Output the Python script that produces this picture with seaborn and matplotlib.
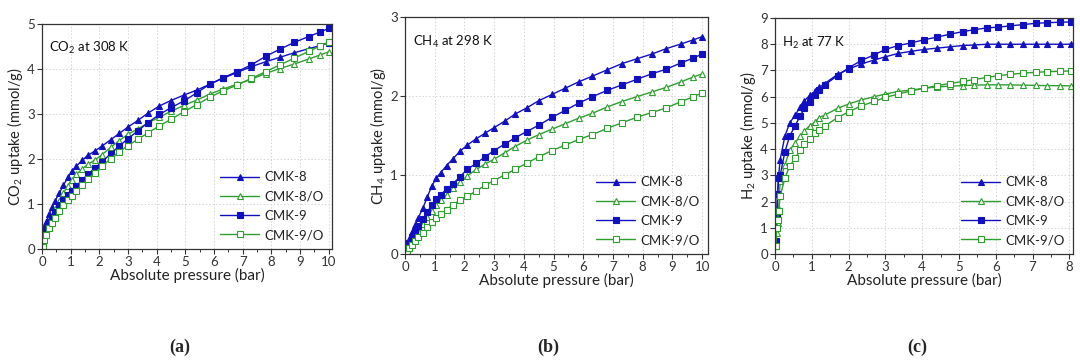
import matplotlib
matplotlib.use("Agg")
import matplotlib.pyplot as plt
from matplotlib.ticker import MultipleLocator
import seaborn as sns

# ---------------- data ----------------
series_names = ["CMK-8", "CMK-8/O", "CMK-9", "CMK-9/O"]

p_co2 = [0.02, 0.08, 0.15, 0.25, 0.35, 0.45, 0.6, 0.75, 0.9, 1.05, 1.2, 1.4, 1.6, 1.85,
         2.1, 2.4, 2.7, 3.0, 3.35, 3.7, 4.1, 4.5, 4.95, 5.4, 5.85, 6.3, 6.8, 7.3, 7.8,
         8.3, 8.8, 9.3, 9.7, 10.0]
co2_cmk8 = [0.25, 0.45, 0.6, 0.78, 0.93, 1.06, 1.24, 1.42, 1.59, 1.73, 1.84, 1.97, 2.08, 2.18,
            2.29, 2.43, 2.57, 2.71, 2.86, 3.02, 3.18, 3.30, 3.42, 3.53, 3.66, 3.79, 3.92, 4.05,
            4.16, 4.26, 4.36, 4.45, 4.52, 4.58]
co2_cmk8o = [0.1, 0.3, 0.45, 0.62, 0.76, 0.9, 1.07, 1.24, 1.41, 1.54, 1.66, 1.78, 1.88, 1.98,
             2.10, 2.26, 2.41, 2.55, 2.67, 2.80, 2.93, 3.06, 3.19, 3.31, 3.44, 3.55, 3.66, 3.77,
             3.90, 4.01, 4.11, 4.22, 4.31, 4.38]
co2_cmk9 = [0.15, 0.32, 0.45, 0.6, 0.72, 0.83, 0.97, 1.09, 1.2, 1.29, 1.40, 1.53, 1.66, 1.80,
            1.94, 2.12, 2.29, 2.45, 2.63, 2.81, 2.99, 3.14, 3.29, 3.47, 3.66, 3.80, 3.94, 4.09,
            4.28, 4.44, 4.59, 4.72, 4.82, 4.90]
co2_cmk9o = [0.05, 0.2, 0.32, 0.46, 0.58, 0.69, 0.84, 0.97, 1.09, 1.18, 1.30, 1.43, 1.56, 1.70,
             1.84, 2.01, 2.16, 2.30, 2.44, 2.58, 2.74, 2.88, 3.05, 3.21, 3.37, 3.51, 3.64, 3.79,
             3.94, 4.09, 4.24, 4.39, 4.51, 4.60]

p_ch4 = [0.02, 0.08, 0.15, 0.25, 0.35, 0.45, 0.6, 0.75, 0.9, 1.05, 1.2, 1.4, 1.6, 1.85,
         2.1, 2.4, 2.7, 3.0, 3.35, 3.7, 4.1, 4.5, 4.95, 5.4, 5.85, 6.3, 6.8, 7.3, 7.8,
         8.3, 8.8, 9.3, 9.7, 10.0]
ch4_cmk8 = [0.05, 0.12, 0.19, 0.28, 0.37, 0.46, 0.58, 0.72, 0.86, 0.96, 1.03, 1.12, 1.20, 1.30,
            1.38, 1.46, 1.53, 1.60, 1.68, 1.77, 1.85, 1.94, 2.02, 2.10, 2.18, 2.25, 2.33, 2.41,
            2.47, 2.53, 2.60, 2.66, 2.71, 2.75]
ch4_cmk8o = [0.02, 0.06, 0.11, 0.17, 0.23, 0.29, 0.38, 0.47, 0.55, 0.62, 0.68, 0.75, 0.83, 0.91,
             0.99, 1.07, 1.14, 1.20, 1.28, 1.36, 1.44, 1.51, 1.58, 1.65, 1.72, 1.78, 1.86, 1.93,
             1.99, 2.05, 2.11, 2.18, 2.24, 2.28]
ch4_cmk9 = [0.04, 0.09, 0.14, 0.21, 0.28, 0.35, 0.44, 0.53, 0.62, 0.70, 0.75, 0.82, 0.88, 0.98,
            1.07, 1.15, 1.23, 1.31, 1.39, 1.47, 1.55, 1.63, 1.73, 1.82, 1.91, 1.99, 2.07, 2.14,
            2.21, 2.28, 2.34, 2.42, 2.48, 2.53]
ch4_cmk9o = [0.01, 0.04, 0.08, 0.12, 0.17, 0.21, 0.27, 0.34, 0.40, 0.46, 0.51, 0.56, 0.62, 0.68,
             0.73, 0.80, 0.87, 0.93, 1.00, 1.07, 1.15, 1.23, 1.31, 1.38, 1.45, 1.51, 1.59, 1.66,
             1.73, 1.79, 1.85, 1.93, 1.99, 2.04]

p_h2 = [0.02, 0.05, 0.07, 0.1, 0.14, 0.27, 0.4, 0.55, 0.68, 0.8, 0.95, 1.1, 1.2, 1.35, 1.7,
        2.0, 2.35, 2.7, 3.0, 3.35, 3.7, 4.05, 4.4, 4.75, 5.1, 5.4, 5.75, 6.05, 6.4, 6.75,
        7.1, 7.4, 7.75, 8.05]
h2_cmk8 = [0.5, 1.5, 2.3, 3.0, 3.6, 4.5, 5.0, 5.3, 5.6, 5.85, 6.05, 6.2, 6.35, 6.5, 6.85,
           7.05, 7.25, 7.4, 7.52, 7.65, 7.73, 7.8, 7.85, 7.9, 7.95, 7.97, 8.0, 8.0, 8.0, 8.0,
           8.0, 8.0, 8.0, 8.0]
h2_cmk8o = [0.3, 0.8, 1.2, 1.7, 2.8, 3.4, 3.95, 4.25, 4.5, 4.7, 4.9, 5.05, 5.2, 5.3, 5.55,
            5.72, 5.88, 6.0, 6.1, 6.2, 6.25, 6.32, 6.37, 6.4, 6.42, 6.44, 6.45, 6.45, 6.45, 6.44,
            6.43, 6.42, 6.42, 6.41]
h2_cmk9 = [0.5, 1.5, 2.3, 2.9, 3.0, 3.9, 4.5, 4.9, 5.25, 5.55, 5.8, 6.05, 6.25, 6.45, 6.8,
           7.1, 7.38, 7.6, 7.8, 7.95, 8.05, 8.17, 8.27, 8.38, 8.48, 8.55, 8.62, 8.65, 8.7, 8.75,
           8.8, 8.82, 8.84, 8.85]
h2_cmk9o = [0.3, 1.0, 1.3, 1.65, 2.2, 2.9, 3.35, 3.65, 3.95, 4.2, 4.4, 4.6, 4.72, 4.88, 5.2,
            5.42, 5.65, 5.82, 5.97, 6.1, 6.22, 6.32, 6.42, 6.5, 6.58, 6.65, 6.73, 6.8, 6.85, 6.9,
            6.93, 6.95, 6.97, 6.98]

panel_titles = ["CO$_2$ at 308 K", "CH$_4$ at 298 K", "H$_2$ at 77 K"]
panel_ylabels = ["CO$_2$ uptake (mmol/g)", "CH$_4$ uptake (mmol/g)", "H$_2$ uptake (mmol/g)"]
panel_letters = ["a", "b", "c"]
xlabel = "Absolute pressure (bar)"

# ---------------- style ----------------
sns.set_theme(style="ticks")
plt.rcParams["font.family"] = ["Lato", "DejaVu Sans"]
plt.rcParams["mathtext.fontset"] = "custom"
plt.rcParams["mathtext.rm"] = "Lato"
plt.rcParams["mathtext.it"] = "Lato:italic"
plt.rcParams["mathtext.bf"] = "Lato:bold"

BLUE = "#1010c0"
GREEN = "#2e9e2e"
styles = [
    dict(color=BLUE, marker="^", mfc=BLUE, mec=BLUE),
    dict(color=GREEN, marker="^", mfc="white", mec=GREEN),
    dict(color=BLUE, marker="s", mfc=BLUE, mec=BLUE),
    dict(color=GREEN, marker="s", mfc="white", mec=GREEN),
]

fig = plt.figure(figsize=(10.8, 3.6), dpi=100)
W, H = 1080, 360
boxes = [(42, 24, 332, 249), (405, 17, 708, 254), (775, 18, 1073, 254)]
axes = [fig.add_axes([l / W, 1 - b / H, (r - l) / W, (b - t) / H]) for (l, t, r, b) in boxes]

panels = [
    (p_co2, [co2_cmk8, co2_cmk8o, co2_cmk9, co2_cmk9o], (0, 10.12), (0, 5), 1),
    (p_ch4, [ch4_cmk8, ch4_cmk8o, ch4_cmk9, ch4_cmk9o], (0, 10.2), (0, 3), 1),
    (p_h2, [h2_cmk8, h2_cmk8o, h2_cmk9, h2_cmk9o], (0, 8.1), (0, 9), 1),
]

label_x = [180, 548, 917]

for i, (ax, (px, ys, xl, yl, ystep)) in enumerate(zip(axes, panels)):
    for name, yv, st in zip(series_names, ys, styles):
        sns.lineplot(x=px, y=yv, ax=ax, sort=False, estimator=None,
                     color=st["color"], marker=st["marker"], markersize=4.6,
                     markerfacecolor=st["mfc"], markeredgecolor=st["mec"],
                     markeredgewidth=0.8, linewidth=1.0, label=name)
    ax.set_xlim(*xl)
    ax.set_ylim(*yl)
    ax.xaxis.set_major_locator(MultipleLocator(1))
    ax.xaxis.set_minor_locator(MultipleLocator(0.5))
    ax.yaxis.set_major_locator(MultipleLocator(ystep))
    ax.grid(True, which="major", linestyle=(0, (1.5, 2)), color="#d4d4d4", linewidth=0.7)
    ax.set_axisbelow(True)
    for s in ax.spines.values():
        s.set_visible(True)
        s.set_color("#333333")
        s.set_linewidth(0.9)
    ax.tick_params(axis="both", which="major", direction="out", length=3.5, width=0.8,
                   labelsize=9.5, colors="#333333", pad=1.5)
    ax.tick_params(axis="x", which="minor", direction="out", length=2, width=0.7, colors="#333333")
    ax.set_xlabel(xlabel, fontsize=11, color="#222222", labelpad=0)
    ax.set_ylabel(panel_ylabels[i], fontsize=10.5, color="#222222", labelpad=2)
    ax.text(0.025, 0.93, panel_titles[i], transform=ax.transAxes, fontsize=9.5,
            ha="left", va="top", color="#111111")
    leg = ax.legend(loc="lower right", frameon=False, fontsize=9.5, handlelength=3.0,
                    labelspacing=0.55, handletextpad=0.4, borderaxespad=0.2)
    for t in leg.get_texts():
        t.set_color("#222222")
    fig.text(label_x[i] / W, 1 - 347 / H, "(" + panel_letters[i] + ")",
             ha="center", va="center", fontsize=13, fontweight="bold",
             family=["Liberation Serif", "DejaVu Serif"])

fig.savefig("out.png", dpi=100)
